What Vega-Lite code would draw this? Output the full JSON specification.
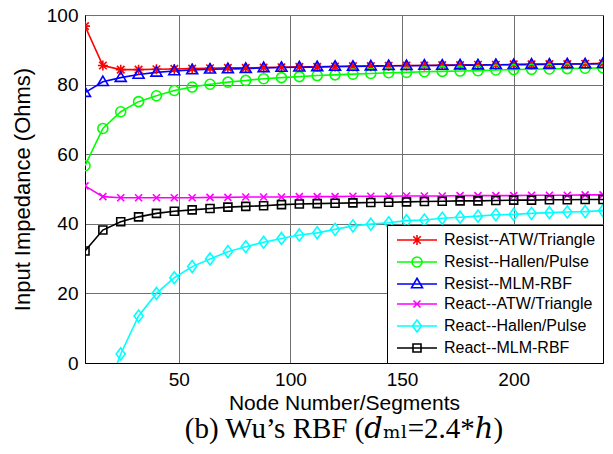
{
  "$schema": "https://vega.github.io/schema/vega-lite/v6.json",
  "autosize": {"type": "none"},
  "width": 518,
  "height": 348,
  "padding": {"left": 85, "top": 15, "right": 10, "bottom": 91},
  "background": "white",
  "config": {
    "font": "Liberation Sans",
    "view": {"stroke": "black", "strokeWidth": 1},
    "axis": {
      "labelFont": "Liberation Sans", "labelFontSize": 19, "labelColor": "black",
      "titleFont": "Liberation Sans", "titleFontSize": 21, "titleFontWeight": "normal", "titleColor": "black",
      "domainColor": "black", "domainWidth": 1,
      "grid": true, "gridColor": "#707070", "gridWidth": 1, "gridOpacity": 1,
      "ticks": false, "labelPadding": 7
    },
    "legend": {
      "labelFont": "Liberation Sans", "labelFontSize": 16, "labelColor": "black",
      "fillColor": "white", "strokeColor": "black", "padding": 7,
      "rowPadding": 4, "symbolStrokeWidth": 1.6, "symbolFillColor": "transparent"
    }
  },
  "title": {
    "text": "(b) Wu’s RBF (𝑑ₘₗ=2.4*ℎ)",
    "orient": "bottom", "anchor": "middle", "font": "Liberation Serif, DejaVu Serif", "fontSize": 29,
    "fontWeight": "normal", "color": "black", "offset": 2
  },
  "data": {"values": [
    {"n":8,"s":"Resist--ATW/Triangle","z":96.8},{"n":16,"s":"Resist--ATW/Triangle","z":85.5},{"n":24,"s":"Resist--ATW/Triangle","z":84.3},{"n":32,"s":"Resist--ATW/Triangle","z":84.3},{"n":40,"s":"Resist--ATW/Triangle","z":84.4},{"n":48,"s":"Resist--ATW/Triangle","z":84.5},{"n":56,"s":"Resist--ATW/Triangle","z":84.6},{"n":64,"s":"Resist--ATW/Triangle","z":84.7},{"n":72,"s":"Resist--ATW/Triangle","z":84.8},{"n":80,"s":"Resist--ATW/Triangle","z":84.8},{"n":88,"s":"Resist--ATW/Triangle","z":84.9},{"n":96,"s":"Resist--ATW/Triangle","z":85.0},{"n":104,"s":"Resist--ATW/Triangle","z":85.1},{"n":112,"s":"Resist--ATW/Triangle","z":85.1},{"n":120,"s":"Resist--ATW/Triangle","z":85.2},{"n":128,"s":"Resist--ATW/Triangle","z":85.3},{"n":136,"s":"Resist--ATW/Triangle","z":85.3},{"n":144,"s":"Resist--ATW/Triangle","z":85.4},{"n":152,"s":"Resist--ATW/Triangle","z":85.5},{"n":160,"s":"Resist--ATW/Triangle","z":85.5},{"n":168,"s":"Resist--ATW/Triangle","z":85.6},{"n":176,"s":"Resist--ATW/Triangle","z":85.6},{"n":184,"s":"Resist--ATW/Triangle","z":85.7},{"n":192,"s":"Resist--ATW/Triangle","z":85.7},{"n":200,"s":"Resist--ATW/Triangle","z":85.8},{"n":208,"s":"Resist--ATW/Triangle","z":85.8},{"n":216,"s":"Resist--ATW/Triangle","z":85.9},{"n":224,"s":"Resist--ATW/Triangle","z":85.9},{"n":232,"s":"Resist--ATW/Triangle","z":86.0},{"n":240,"s":"Resist--ATW/Triangle","z":86.1},
    {"n":8,"s":"Resist--Hallen/Pulse","z":56.7},{"n":16,"s":"Resist--Hallen/Pulse","z":67.4},{"n":24,"s":"Resist--Hallen/Pulse","z":72.2},{"n":32,"s":"Resist--Hallen/Pulse","z":75.1},{"n":40,"s":"Resist--Hallen/Pulse","z":76.8},{"n":48,"s":"Resist--Hallen/Pulse","z":78.3},{"n":56,"s":"Resist--Hallen/Pulse","z":79.3},{"n":64,"s":"Resist--Hallen/Pulse","z":80.1},{"n":72,"s":"Resist--Hallen/Pulse","z":80.7},{"n":80,"s":"Resist--Hallen/Pulse","z":81.2},{"n":88,"s":"Resist--Hallen/Pulse","z":81.7},{"n":96,"s":"Resist--Hallen/Pulse","z":82.0},{"n":104,"s":"Resist--Hallen/Pulse","z":82.3},{"n":112,"s":"Resist--Hallen/Pulse","z":82.6},{"n":120,"s":"Resist--Hallen/Pulse","z":82.8},{"n":128,"s":"Resist--Hallen/Pulse","z":83.0},{"n":136,"s":"Resist--Hallen/Pulse","z":83.2},{"n":144,"s":"Resist--Hallen/Pulse","z":83.4},{"n":152,"s":"Resist--Hallen/Pulse","z":83.5},{"n":160,"s":"Resist--Hallen/Pulse","z":83.7},{"n":168,"s":"Resist--Hallen/Pulse","z":83.8},{"n":176,"s":"Resist--Hallen/Pulse","z":83.9},{"n":184,"s":"Resist--Hallen/Pulse","z":84.0},{"n":192,"s":"Resist--Hallen/Pulse","z":84.2},{"n":200,"s":"Resist--Hallen/Pulse","z":84.3},{"n":208,"s":"Resist--Hallen/Pulse","z":84.4},{"n":216,"s":"Resist--Hallen/Pulse","z":84.5},{"n":224,"s":"Resist--Hallen/Pulse","z":84.6},{"n":232,"s":"Resist--Hallen/Pulse","z":84.7},{"n":240,"s":"Resist--Hallen/Pulse","z":84.8},
    {"n":8,"s":"Resist--MLM-RBF","z":77.7},{"n":16,"s":"Resist--MLM-RBF","z":80.8},{"n":24,"s":"Resist--MLM-RBF","z":82.0},{"n":32,"s":"Resist--MLM-RBF","z":82.9},{"n":40,"s":"Resist--MLM-RBF","z":83.5},{"n":48,"s":"Resist--MLM-RBF","z":83.9},{"n":56,"s":"Resist--MLM-RBF","z":84.2},{"n":64,"s":"Resist--MLM-RBF","z":84.4},{"n":72,"s":"Resist--MLM-RBF","z":84.5},{"n":80,"s":"Resist--MLM-RBF","z":84.6},{"n":88,"s":"Resist--MLM-RBF","z":84.8},{"n":96,"s":"Resist--MLM-RBF","z":84.9},{"n":104,"s":"Resist--MLM-RBF","z":85.0},{"n":112,"s":"Resist--MLM-RBF","z":85.1},{"n":120,"s":"Resist--MLM-RBF","z":85.2},{"n":128,"s":"Resist--MLM-RBF","z":85.2},{"n":136,"s":"Resist--MLM-RBF","z":85.3},{"n":144,"s":"Resist--MLM-RBF","z":85.4},{"n":152,"s":"Resist--MLM-RBF","z":85.4},{"n":160,"s":"Resist--MLM-RBF","z":85.5},{"n":168,"s":"Resist--MLM-RBF","z":85.5},{"n":176,"s":"Resist--MLM-RBF","z":85.6},{"n":184,"s":"Resist--MLM-RBF","z":85.6},{"n":192,"s":"Resist--MLM-RBF","z":85.7},{"n":200,"s":"Resist--MLM-RBF","z":85.7},{"n":208,"s":"Resist--MLM-RBF","z":85.8},{"n":216,"s":"Resist--MLM-RBF","z":85.8},{"n":224,"s":"Resist--MLM-RBF","z":85.9},{"n":232,"s":"Resist--MLM-RBF","z":85.9},{"n":240,"s":"Resist--MLM-RBF","z":86.0},
    {"n":8,"s":"React--ATW/Triangle","z":50.9},{"n":16,"s":"React--ATW/Triangle","z":47.8},{"n":24,"s":"React--ATW/Triangle","z":47.5},{"n":32,"s":"React--ATW/Triangle","z":47.5},{"n":40,"s":"React--ATW/Triangle","z":47.5},{"n":48,"s":"React--ATW/Triangle","z":47.5},{"n":56,"s":"React--ATW/Triangle","z":47.5},{"n":64,"s":"React--ATW/Triangle","z":47.6},{"n":72,"s":"React--ATW/Triangle","z":47.6},{"n":80,"s":"React--ATW/Triangle","z":47.7},{"n":88,"s":"React--ATW/Triangle","z":47.7},{"n":96,"s":"React--ATW/Triangle","z":47.7},{"n":104,"s":"React--ATW/Triangle","z":47.8},{"n":112,"s":"React--ATW/Triangle","z":47.8},{"n":120,"s":"React--ATW/Triangle","z":47.8},{"n":128,"s":"React--ATW/Triangle","z":47.9},{"n":136,"s":"React--ATW/Triangle","z":47.9},{"n":144,"s":"React--ATW/Triangle","z":47.9},{"n":152,"s":"React--ATW/Triangle","z":48.0},{"n":160,"s":"React--ATW/Triangle","z":48.0},{"n":168,"s":"React--ATW/Triangle","z":48.0},{"n":176,"s":"React--ATW/Triangle","z":48.1},{"n":184,"s":"React--ATW/Triangle","z":48.1},{"n":192,"s":"React--ATW/Triangle","z":48.1},{"n":200,"s":"React--ATW/Triangle","z":48.1},{"n":208,"s":"React--ATW/Triangle","z":48.2},{"n":216,"s":"React--ATW/Triangle","z":48.2},{"n":224,"s":"React--ATW/Triangle","z":48.2},{"n":232,"s":"React--ATW/Triangle","z":48.3},{"n":240,"s":"React--ATW/Triangle","z":48.3},
    {"n":8,"s":"React--Hallen/Pulse","z":-45},{"n":16,"s":"React--Hallen/Pulse","z":-11.3},{"n":24,"s":"React--Hallen/Pulse","z":2.6},{"n":32,"s":"React--Hallen/Pulse","z":13.5},{"n":40,"s":"React--Hallen/Pulse","z":20.0},{"n":48,"s":"React--Hallen/Pulse","z":24.5},{"n":56,"s":"React--Hallen/Pulse","z":27.7},{"n":64,"s":"React--Hallen/Pulse","z":29.9},{"n":72,"s":"React--Hallen/Pulse","z":32.0},{"n":80,"s":"React--Hallen/Pulse","z":33.4},{"n":88,"s":"React--Hallen/Pulse","z":34.7},{"n":96,"s":"React--Hallen/Pulse","z":35.8},{"n":104,"s":"React--Hallen/Pulse","z":36.8},{"n":112,"s":"React--Hallen/Pulse","z":37.4},{"n":120,"s":"React--Hallen/Pulse","z":38.4},{"n":128,"s":"React--Hallen/Pulse","z":39.4},{"n":136,"s":"React--Hallen/Pulse","z":39.9},{"n":144,"s":"React--Hallen/Pulse","z":40.3},{"n":152,"s":"React--Hallen/Pulse","z":40.9},{"n":160,"s":"React--Hallen/Pulse","z":41.1},{"n":168,"s":"React--Hallen/Pulse","z":41.6},{"n":176,"s":"React--Hallen/Pulse","z":41.9},{"n":184,"s":"React--Hallen/Pulse","z":42.2},{"n":192,"s":"React--Hallen/Pulse","z":42.6},{"n":200,"s":"React--Hallen/Pulse","z":42.7},{"n":208,"s":"React--Hallen/Pulse","z":43.0},{"n":216,"s":"React--Hallen/Pulse","z":43.2},{"n":224,"s":"React--Hallen/Pulse","z":43.4},{"n":232,"s":"React--Hallen/Pulse","z":43.5},{"n":240,"s":"React--Hallen/Pulse","z":43.8},
    {"n":8,"s":"React--MLM-RBF","z":32.2},{"n":16,"s":"React--MLM-RBF","z":38.2},{"n":24,"s":"React--MLM-RBF","z":40.6},{"n":32,"s":"React--MLM-RBF","z":42.0},{"n":40,"s":"React--MLM-RBF","z":43.0},{"n":48,"s":"React--MLM-RBF","z":43.6},{"n":56,"s":"React--MLM-RBF","z":44.0},{"n":64,"s":"React--MLM-RBF","z":44.4},{"n":72,"s":"React--MLM-RBF","z":44.8},{"n":80,"s":"React--MLM-RBF","z":45.0},{"n":88,"s":"React--MLM-RBF","z":45.2},{"n":96,"s":"React--MLM-RBF","z":45.5},{"n":104,"s":"React--MLM-RBF","z":45.7},{"n":112,"s":"React--MLM-RBF","z":45.8},{"n":120,"s":"React--MLM-RBF","z":45.9},{"n":128,"s":"React--MLM-RBF","z":46.0},{"n":136,"s":"React--MLM-RBF","z":46.1},{"n":144,"s":"React--MLM-RBF","z":46.2},{"n":152,"s":"React--MLM-RBF","z":46.3},{"n":160,"s":"React--MLM-RBF","z":46.4},{"n":168,"s":"React--MLM-RBF","z":46.5},{"n":176,"s":"React--MLM-RBF","z":46.6},{"n":184,"s":"React--MLM-RBF","z":46.6},{"n":192,"s":"React--MLM-RBF","z":46.7},{"n":200,"s":"React--MLM-RBF","z":46.8},{"n":208,"s":"React--MLM-RBF","z":46.8},{"n":216,"s":"React--MLM-RBF","z":46.9},{"n":224,"s":"React--MLM-RBF","z":46.9},{"n":232,"s":"React--MLM-RBF","z":47.0},{"n":240,"s":"React--MLM-RBF","z":47.0}
  ]},
  "encoding": {
    "x": {"field": "n", "type": "quantitative", "title": "Node Number/Segments",
          "scale": {"domain": [8, 240], "nice": false, "zero": false},
          "axis": {"values": [50, 100, 150, 200], "titlePadding": 3}},
    "y": {"field": "z", "type": "quantitative", "title": "Input Impedance (Ohms)",
          "scale": {"domain": [0, 100], "nice": false},
          "axis": {"values": [0, 20, 40, 60, 80, 100], "titlePadding": 12, "titleFontSize": 22}}
  },
  "layer": [
    {
      "mark": {"type": "line", "clip": true, "strokeWidth": 1.6},
      "encoding": {
        "color": {"field": "s", "type": "nominal", "legend": null,
          "scale": {"domain": ["Resist--ATW/Triangle","Resist--Hallen/Pulse","Resist--MLM-RBF","React--ATW/Triangle","React--Hallen/Pulse","React--MLM-RBF"],
                    "range": ["#ff0000","#00ff00","#0000ff","#ff00ff","#00ffff","#000000"]}},
        "detail": {"field": "s"}
      }
    },
    {
      "mark": {"type": "point", "clip": true, "filled": false, "strokeWidth": 1.6, "size": 100, "opacity": 1},
      "encoding": {
        "color": {"field": "s", "type": "nominal", "legend": null,
          "scale": {"domain": ["Resist--ATW/Triangle","Resist--Hallen/Pulse","Resist--MLM-RBF","React--ATW/Triangle","React--Hallen/Pulse","React--MLM-RBF"],
                    "range": ["#ff0000","#00ff00","#0000ff","#ff00ff","#00ffff","#000000"]}},
        "shape": {"field": "s", "type": "nominal", "legend": null,
          "scale": {"domain": ["Resist--ATW/Triangle","Resist--Hallen/Pulse","Resist--MLM-RBF","React--ATW/Triangle","React--Hallen/Pulse","React--MLM-RBF"],
                    "range": ["M-1,0L1,0M0,-1L0,1M-0.75,-0.75L0.75,0.75M-0.75,0.75L0.75,-0.75",
                              "M1,0A1,1 0 1,1 -1,0A1,1 0 1,1 1,0Z",
                              "M0,-1.15L1.1,0.75L-1.1,0.75Z",
                              "M-0.7,-0.7L0.7,0.7M-0.7,0.7L0.7,-0.7",
                              "M0,-1.2L0.9,0L0,1.2L-0.9,0Z",
                              "M-0.8,-0.8L0.8,-0.8L0.8,0.8L-0.8,0.8Z"]}}
      }
    },
    {
      "transform": [{"filter": "datum.n < 0"}],
      "mark": {"type": "point", "filled": false, "strokeWidth": 1.6, "size": 100, "opacity": 1},
      "encoding": {
        "color": {"field": "s", "type": "nominal",
          "legend": {"title": null, "orient": "bottom-right", "offset": 0, "labelOffset": 34, "symbolSize": 100, "rowPadding": 4, "padding": 7},
          "scale": {"domain": ["Resist--ATW/Triangle","Resist--Hallen/Pulse","Resist--MLM-RBF","React--ATW/Triangle","React--Hallen/Pulse","React--MLM-RBF"],
                    "range": ["#ff0000","#00ff00","#0000ff","#ff00ff","#00ffff","#000000"]}},
        "shape": {"field": "s", "type": "nominal",
          "legend": {"title": null, "orient": "bottom-right", "offset": 0, "labelOffset": 34, "symbolSize": 100, "rowPadding": 4, "padding": 7},
          "scale": {"domain": ["Resist--ATW/Triangle","Resist--Hallen/Pulse","Resist--MLM-RBF","React--ATW/Triangle","React--Hallen/Pulse","React--MLM-RBF"],
                    "range": ["M-1,0L7,0M2,0L4,0M3,-1L3,1M2.25,-0.75L3.75,0.75M2.25,0.75L3.75,-0.75",
                              "M-1,0L7,0M4,0A1,1 0 1,1 2,0A1,1 0 1,1 4,0Z",
                              "M-1,0L7,0M3,-1.15L4.1,0.75L1.9,0.75Z",
                              "M-1,0L7,0M2.3,-0.7L3.7,0.7M2.3,0.7L3.7,-0.7",
                              "M-1,0L7,0M3,-1.2L3.9,0L3,1.2L2.1,0Z",
                              "M-1,0L7,0M2.2,-0.8L3.8,-0.8L3.8,0.8L2.2,0.8Z"]}}
      }
    }
  ],
  "resolve": {
    "scale": {"color": "independent", "shape": "independent"},
    "legend": {"color": "independent", "shape": "independent"}
  }
}
